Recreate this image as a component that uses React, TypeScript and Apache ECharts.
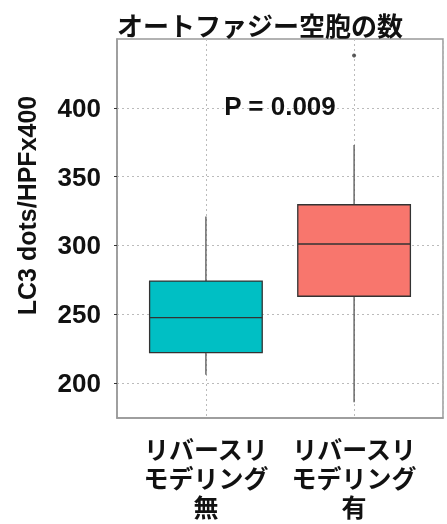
import React, { useEffect, useRef } from 'react';
import * as echarts from 'echarts';

const chartTitle = 'オートファジー空胞の数';
const yAxisName = 'LC3 dots/HPFx400';
const categories = ['リバースリ\nモデリング\n無', 'リバースリ\nモデリング\n有'];
const categoryPositions = [1, 2];
const whiskerLow = [206, 186];
const quartile1 = [222, 263];
const medians = [247.5, 301];
const quartile3 = [274, 329.5];
const whiskerHigh = [321, 373];
const boxColors = ['#00BFC4', '#F8766D'];
const outliers = [[2, 438]];
const yTicks = [200, 250, 300, 350, 400];
const pValueText = 'P = 0.009';
const pValuePosition = [1.5, 401];

const BOX_WIDTH = 0.76;
const LATIN = '"Liberation Sans", "Noto Sans CJK JP", sans-serif';
const CJK = '"Noto Sans CJK JP", sans-serif';

export default function App() {
  const ref = useRef<HTMLDivElement>(null);
  useEffect(() => {
    if (!ref.current) return;
    const chart = echarts.init(ref.current, undefined, { renderer: 'svg' });
    const boxData = categoryPositions.map((x, i) => [
      x, whiskerLow[i], quartile1[i], medians[i], quartile3[i], whiskerHigh[i],
    ]);
    chart.setOption({
      animation: false,
      title: {
        text: chartTitle,
        left: 112,
        top: 6,
        textStyle: { fontFamily: CJK, fontSize: 26, fontWeight: 'bold', color: '#111' },
      },
      grid: {
        left: 117, right: 4, top: 39, bottom: 106,
        show: true, borderColor: '#999', borderWidth: 1.5,
      },
      xAxis: {
        type: 'value',
        min: 0.4,
        max: 2.6,
        splitNumber: 2,
        axisLine: { show: true, lineStyle: { color: '#999', width: 1.5 } },
        axisTick: { show: false },
        splitLine: { show: true, lineStyle: { color: '#bbb', type: [2, 3], width: 1 } },
        axisLabel: {
          customValues: categoryPositions,
          margin: 15,
          fontFamily: CJK,
          fontSize: 25,
          fontWeight: 'bold',
          lineHeight: 29,
          color: '#111',
          formatter: (v: number) => {
            const i = categoryPositions.indexOf(v);
            return i >= 0 ? categories[i] : '';
          },
        },
      },
      yAxis: {
        type: 'value',
        min: 174.5,
        max: 450,
        splitNumber: 5,
        name: yAxisName,
        nameLocation: 'middle',
        nameRotate: 90,
        nameGap: 78,
        nameTextStyle: {
          fontFamily: LATIN, fontSize: 25, fontWeight: 'bold', color: '#111',
          padding: [0, 0, 0, 46],
        },
        axisLine: { show: true, lineStyle: { color: '#999', width: 1.5 } },
        axisTick: { show: true, length: 3, lineStyle: { color: '#333' }, customValues: yTicks },
        splitLine: { show: true, lineStyle: { color: '#bbb', type: [2, 3], width: 1 } },
        axisLabel: {
          customValues: yTicks,
          margin: 16,
          fontFamily: LATIN,
          fontSize: 26,
          fontWeight: 'bold',
          color: '#111',
        },
      },
      series: [
        {
          type: 'custom',
          data: boxData,
          encode: { x: 0, y: [1, 2, 3, 4, 5] },
          z: 3,
          renderItem: (params: any, api: any) => {
            const x = api.value(0);
            const idx = params.dataIndex;
            const pLow = api.coord([x, api.value(1)]);
            const pQ1 = api.coord([x, api.value(2)]);
            const pMed = api.coord([x, api.value(3)]);
            const pQ3 = api.coord([x, api.value(4)]);
            const pHigh = api.coord([x, api.value(5)]);
            const halfW = api.size([BOX_WIDTH, 0])[0] / 2;
            const whisker = { stroke: '#555', lineWidth: 1.3 };
            const border = { stroke: '#333', lineWidth: 1.3 };
            return {
              type: 'group',
              children: [
                { type: 'line', shape: { x1: pQ3[0], y1: pQ3[1], x2: pHigh[0], y2: pHigh[1] }, style: whisker },
                { type: 'line', shape: { x1: pQ1[0], y1: pQ1[1], x2: pLow[0], y2: pLow[1] }, style: whisker },
                {
                  type: 'rect',
                  shape: { x: pQ3[0] - halfW, y: pQ3[1], width: 2 * halfW, height: pQ1[1] - pQ3[1] },
                  style: { fill: boxColors[idx], ...border },
                },
                { type: 'line', shape: { x1: pMed[0] - halfW, y1: pMed[1], x2: pMed[0] + halfW, y2: pMed[1] }, style: border },
              ],
            };
          },
        },
        {
          type: 'scatter',
          data: outliers,
          symbolSize: 4,
          itemStyle: { color: '#333' },
          z: 4,
          markPoint: {
            symbol: 'circle',
            symbolSize: 0,
            data: [{ coord: pValuePosition, value: pValueText }],
            label: {
              show: true,
              position: 'inside',
              formatter: pValueText,
              fontFamily: LATIN,
              fontSize: 26,
              fontWeight: 'bold',
              color: '#111',
            },
          },
        },
      ],
    });
    return () => chart.dispose();
  }, []);
  return <div ref={ref} style={{ position: 'fixed', left: 0, top: 0, width: 447, height: 524 }} />;
}
